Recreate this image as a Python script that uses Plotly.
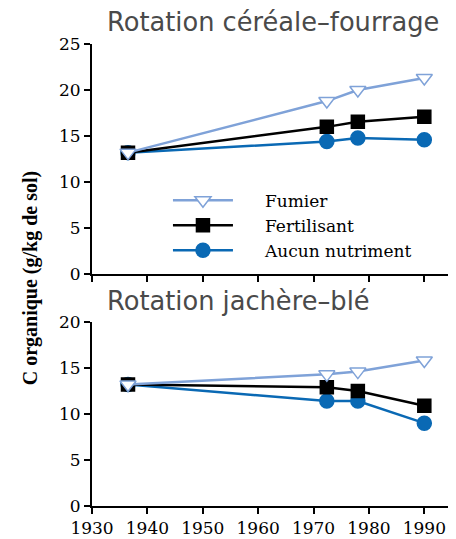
import plotly.graph_objects as go

years = [1936.5, 1972.4, 1978, 1990]
series_names = ["Fumier", "Fertilisant", "Aucun nutriment"]

# Rotation céréale–fourrage
top_fumier = [13.2, 18.8, 20.0, 21.3]
top_fertilisant = [13.2, 16.0, 16.55, 17.1]
top_aucun = [13.2, 14.4, 14.8, 14.6]

# Rotation jachère–blé
bot_fumier = [13.2, 14.3, 14.6, 15.8]
bot_fertilisant = [13.2, 12.9, 12.5, 10.9]
bot_aucun = [13.2, 11.4, 11.4, 9.0]

x_ticks = [1930, 1940, 1950, 1960, 1970, 1980, 1990]
top_yticks = [0, 5, 10, 15, 20, 25]
bot_yticks = [0, 5, 10, 15, 20]

styles = {
    "Fumier": dict(color="#7fa2d8", symbol="triangle-down", fill="white"),
    "Fertilisant": dict(color="#000000", symbol="square", fill="#000000"),
    "Aucun nutriment": dict(color="#0a69b4", symbol="circle", fill="#0a69b4"),
}

fig = go.Figure()
order = ["Aucun nutriment", "Fertilisant", "Fumier"]
rank = {"Fumier": 1, "Fertilisant": 2, "Aucun nutriment": 3}
top_data = {"Fumier": top_fumier, "Fertilisant": top_fertilisant, "Aucun nutriment": top_aucun}
bot_data = {"Fumier": bot_fumier, "Fertilisant": bot_fertilisant, "Aucun nutriment": bot_aucun}

pad = "&nbsp;" * 5
for name in order:
    st = styles[name]
    for data, xa, ya, show in [(top_data, "x", "y", True), (bot_data, "x2", "y2", False)]:
        fig.add_trace(go.Scatter(
            x=years, y=data[name], xaxis=xa, yaxis=ya, name=pad + name,
            mode="lines+markers", showlegend=show, legendrank=rank[name],
            line=dict(color=st["color"], width=2.5),
            marker=dict(symbol=st["symbol"], size=14 if name != "Fertilisant" else 13,
                        color=st["fill"], line=dict(color=st["color"], width=1.5)),
        ))

tickfont = dict(family="DejaVu Serif", size=17, color="black")
axis_common = dict(showline=True, linecolor="black", linewidth=2, ticks="outside",
                   ticklen=6, tickwidth=2, tickcolor="black", showgrid=False,
                   zeroline=False, tickfont=tickfont, automargin=False)

fig.update_layout(
    width=448, height=531,
    margin=dict(l=84, r=4, t=36, b=33),
    paper_bgcolor="white", plot_bgcolor="white",
    xaxis=dict(domain=[0, 1], range=[1930, 1995], anchor="y", tickvals=x_ticks,
               showticklabels=False, **axis_common),
    yaxis=dict(domain=[0.5018, 1], range=[0, 25], anchor="x", tickvals=top_yticks, **axis_common),
    xaxis2=dict(domain=[0, 1], range=[1930, 1995], anchor="y2", tickvals=x_ticks, **axis_common),
    yaxis2=dict(domain=[0, 0.3985], range=[0, 20], anchor="x2", tickvals=bot_yticks, **axis_common),
    legend=dict(x=0.211, y=0.70, xanchor="left", yanchor="top", bgcolor="rgba(0,0,0,0)",
                font=dict(family="DejaVu Serif", size=17, color="black"),
                itemwidth=60, tracegroupgap=0),
    showlegend=True,
    annotations=[
        dict(text="Rotation céréale–fourrage", xref="paper", yref="paper", x=0.035, y=1.047,
             xanchor="left", yanchor="middle", showarrow=False,
             font=dict(family="DejaVu Sans", size=25.7, color="#4a4a4a")),
        dict(text="Rotation jachère–blé", xref="paper", yref="paper", x=0.035, y=0.443,
             xanchor="left", yanchor="middle", showarrow=False,
             font=dict(family="DejaVu Sans", size=25.7, color="#4a4a4a")),
        dict(text="<b>C organique (g/kg de sol)</b>", xref="paper", yref="paper", x=-0.172, y=0.493,
             xanchor="center", yanchor="middle", showarrow=False, textangle=-90,
             font=dict(family="Liberation Serif", size=20, color="black")),
    ],
)

fig.write_html("out.html")
